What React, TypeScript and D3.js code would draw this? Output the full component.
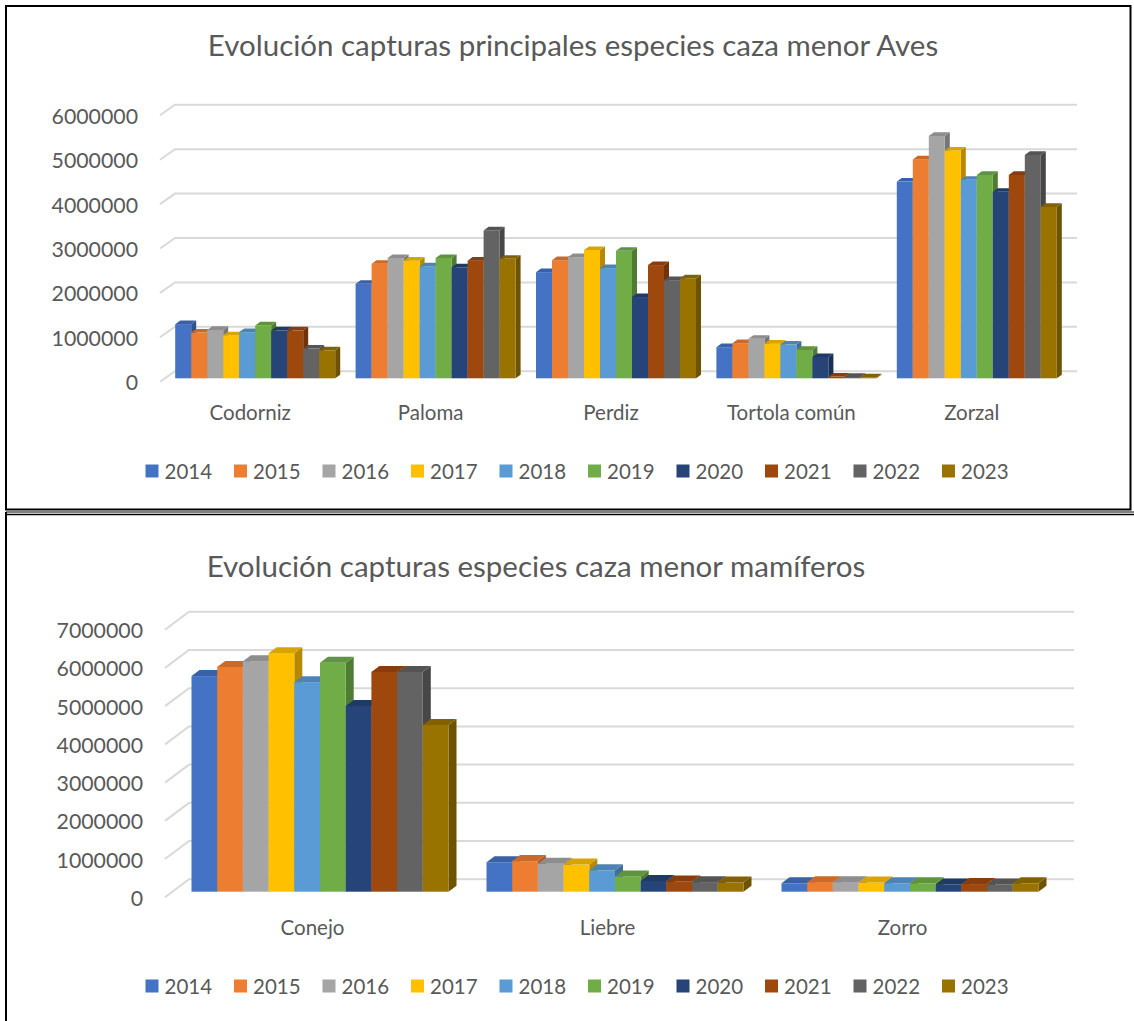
import React from 'react';
import * as d3 from 'd3';

const years = ['2014', '2015', '2016', '2017', '2018', '2019', '2020', '2021', '2022', '2023'];
const colors = ['#4472C4', '#ED7D31', '#A5A5A5', '#FFC000', '#5B9BD5', '#70AD47', '#264478', '#9E480E', '#636363', '#997300'];

const avesTitle = 'Evolución capturas principales especies caza menor Aves';
const avesCategories = ['Codorniz', 'Paloma', 'Perdiz', 'Tortola común', 'Zorzal'];
const codorniz = [1220000, 1030000, 1090000, 970000, 1040000, 1190000, 1080000, 1080000, 670000, 630000];
const paloma = [2130000, 2580000, 2710000, 2650000, 2520000, 2710000, 2500000, 2650000, 3330000, 2690000];
const perdiz = [2390000, 2660000, 2730000, 2890000, 2480000, 2870000, 1830000, 2550000, 2210000, 2250000];
const tortola = [700000, 790000, 890000, 780000, 760000, 640000, 480000, 40000, 30000, 20000];
const zorzal = [4430000, 4930000, 5460000, 5130000, 4470000, 4580000, 4200000, 4580000, 5030000, 3860000];
const avesTicks = [0, 1000000, 2000000, 3000000, 4000000, 5000000, 6000000];

const mamTitle = 'Evolución capturas especies caza menor mamíferos';
const mamCategories = ['Conejo', 'Liebre', 'Zorro'];
const conejo = [5640000, 5880000, 6030000, 6240000, 5480000, 5990000, 4860000, 5750000, 5750000, 4360000];
const liebre = [770000, 800000, 730000, 710000, 560000, 400000, 280000, 270000, 250000, 240000];
const zorro = [220000, 250000, 250000, 240000, 220000, 220000, 190000, 200000, 190000, 220000];
const mamTicks = [0, 1000000, 2000000, 3000000, 4000000, 5000000, 6000000, 7000000];

const FONT = 'Lato, "Open Sans", sans-serif';
const TXT = '#595959';

type Layout = {
  titleX: number; titleBase: number;
  frontLeft: number; zeroY: number; topY: number;
  bandWidth: number; clusterWidth: number;
  wallDx: number; wallDy: number; barDx: number; barDy: number; barOffX: number; barOffY: number;
  labelRight: number; catBase: number; legendY: number; legendX0: number; legendStep: number;
};

function Panel({ title, categories, rows, ticks, L }: { title: string; categories: string[]; rows: number[][]; ticks: number[]; L: Layout }) {
  const maxT = ticks[ticks.length - 1];
  const y = d3.scaleLinear().domain([0, maxT]).range([L.zeroY, L.topY]);
  const x0 = d3.scaleBand<string>().domain(categories)
    .range([L.frontLeft + L.barOffX, L.frontLeft + L.barOffX + categories.length * L.bandWidth]).padding(0);
  const gap = (L.bandWidth - L.clusterWidth) / 2;
  const x1 = d3.scaleBand<string>().domain(years).range([gap, L.bandWidth - gap]).padding(0);
  const backLeft = L.frontLeft + L.wallDx;
  const backRight = x0.range()[1] + (L.wallDx - L.barOffX);
  const fmt = d3.format('d');
  const bw = x1.bandwidth();

  return (
    <g>
      <text x={L.titleX} y={L.titleBase} textAnchor="middle" fontFamily={FONT} fontSize={29.5} fill={TXT}>{title}</text>
      {ticks.map((t) => {
        const yy = y(t);
        return (
          <g key={t}>
            <path d={`M${L.frontLeft},${yy}L${backLeft},${yy + L.wallDy}L${backRight},${yy + L.wallDy}`} fill="none" stroke="#d9d9d9" strokeWidth={2} />
            <text x={L.labelRight} y={yy + 8.5} textAnchor="end" fontFamily={FONT} fontSize={21.3} fill={TXT}>{fmt(t)}</text>
          </g>
        );
      })}
      {categories.map((c, ci) => (
        <g key={c}>
          {years.map((yr, yi) => {
            const v = rows[ci][yi];
            const xL = (x0(c) as number) + (x1(yr) as number);
            const base = L.zeroY + L.barOffY;
            const top = y(v) + L.barOffY;
            const col = d3.color(colors[yi])!;
            const topCol = col.darker(0.45).toString();
            const sideCol = col.darker(0.95).toString();
            const dx = L.barDx, dy = L.barDy;
            return (
              <g key={yr}>
                <path d={`M${xL + bw},${top}L${xL + bw + dx},${top + dy}L${xL + bw + dx},${base + dy}L${xL + bw},${base}Z`} fill={sideCol} />
                <rect x={xL} y={top} width={bw} height={Math.max(0, base - top)} fill={colors[yi]} />
                <path d={`M${xL},${top}L${xL + dx},${top + dy}L${xL + bw + dx},${top + dy}L${xL + bw},${top}Z`} fill={topCol} />
              </g>
            );
          })}
          <text x={(x0(c) as number) - L.barOffX + L.bandWidth / 2} y={L.catBase} textAnchor="middle" fontFamily={FONT} fontSize={20.5} fill={TXT}>{c}</text>
        </g>
      ))}
      {years.map((yr, i) => {
        const lx = L.legendX0 + i * L.legendStep;
        return (
          <g key={yr}>
            <rect x={lx} y={L.legendY - 6.5} width={13} height={13} fill={colors[i]} />
            <text x={lx + 19} y={L.legendY + 7.5} fontFamily={FONT} fontSize={20.5} fill={TXT}>{yr}</text>
          </g>
        );
      })}
    </g>
  );
}

const avesLayout: Layout = {
  titleX: 573, titleBase: 56,
  frontLeft: 160, zeroY: 381.7, topY: 381.7 - 6 * 44.4,
  bandWidth: 180.4, clusterWidth: 160,
  wallDx: 15, wallDy: -10.5, barDx: 5, barDy: -3.6, barOffX: 5, barOffY: -3.4,
  labelRight: 138, catBase: 420, legendY: 471, legendX0: 145.5, legendStep: 88.5,
};

const mamLayout: Layout = {
  titleX: 536, titleBase: 576.5,
  frontLeft: 165, zeroY: 897.3, topY: 897.3 - 7 * 38.23,
  bandWidth: 295, clusterWidth: 257,
  wallDx: 24, wallDy: -18, barDx: 8, barDy: -6, barOffX: 7.5, barOffY: -5.6,
  labelRight: 143, catBase: 935, legendY: 986, legendX0: 145.5, legendStep: 88.5,
};

export default function App() {
  return (
    <div style={{ position: 'absolute', left: 0, top: 0 }}>
      <svg width={1134} height={1021} viewBox="0 0 1134 1021" style={{ display: 'block', background: '#fff' }}>
        <rect x={0} y={0} width={1134} height={1021} fill="#fff" />
        <Panel title={avesTitle} categories={avesCategories} rows={[codorniz, paloma, perdiz, tortola, zorzal]} ticks={avesTicks} L={avesLayout} />
        <Panel title={mamTitle} categories={mamCategories} rows={[conejo, liebre, zorro]} ticks={mamTicks} L={mamLayout} />
        <rect x={6} y={6} width={1124.5} height={503.5} fill="none" stroke="#000" strokeWidth={2} />
        <path d="M6,512L1140,512" stroke="#000" strokeWidth={1.2} />
        <path d="M6,514.5L1140,514.5" stroke="#000" strokeWidth={1.5} />
        <path d="M6,512L6,1021" stroke="#000" strokeWidth={2} />
      </svg>
    </div>
  );
}
